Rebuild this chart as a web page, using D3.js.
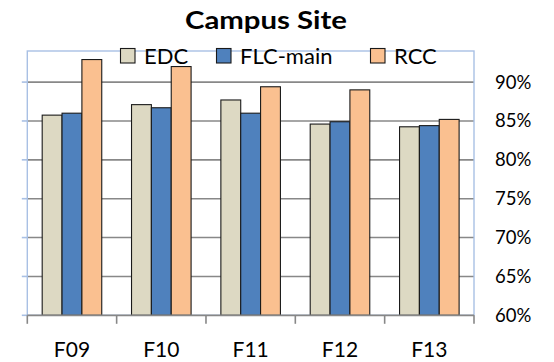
<!DOCTYPE html>
<html>
<head>
<meta charset="utf-8">
<script src="https://cdn.jsdelivr.net/npm/d3@7/dist/d3.min.js"></script>
<style>
  html, body { margin: 0; padding: 0; background: #fff; }
  svg { display: block; }
</style>
</head>
<body>
<svg id="chart" width="554" height="362"></svg>
<script>
const categories = ["F09", "F10", "F11", "F12", "F13"];
const seriesNames = ["EDC", "FLC-main", "RCC"];
const edcValues = [0.8575, 0.871, 0.877, 0.846, 0.8425];
const flcValues = [0.860, 0.867, 0.860, 0.849, 0.844];
const rccValues = [0.929, 0.920, 0.894, 0.890, 0.852];
const yTickValues = [0.60, 0.65, 0.70, 0.75, 0.80, 0.85, 0.90];
const seriesColors = ["#DDD9C3", "#4F81BD", "#FAC090"];
const titleText = "Campus Site";

const seriesValues = [edcValues, flcValues, rccValues];
const rows = categories.map((c, i) => ({
  cat: c,
  vals: seriesNames.map((s, j) => ({ key: s, value: seriesValues[j][i], color: seriesColors[j] }))
}));

const svg = d3.select("#chart");
const plot = { left: 27.3, right: 474, top: 51, bottom: 315.3 };

const x0 = d3.scaleBand().domain(categories).range([plot.left, plot.right]).padding(0);
const bw = x0.bandwidth();
const x1 = d3.scaleBand().domain(seriesNames).range([bw / 6, bw * 5 / 6]).padding(0);
const y = d3.scaleLinear().domain([0.60, 0.94]).range([plot.bottom, plot.top]);

const FONT = "Lato, 'Open Sans', sans-serif";

// gridlines
svg.append("g").selectAll("line").data(yTickValues.filter(v => v > 0.6)).join("line")
  .attr("x1", plot.left).attr("x2", plot.right)
  .attr("y1", d => y(d)).attr("y2", d => y(d))
  .attr("stroke", "#888888").attr("stroke-width", 1.6);

// left light blue ticks
svg.append("g").selectAll("line").data(yTickValues).join("line")
  .attr("x1", plot.left - 5.5).attr("x2", plot.left)
  .attr("y1", d => y(d)).attr("y2", d => y(d))
  .attr("stroke", "#A9C0E4").attr("stroke-width", 1.6);

// plot border (light blue)
svg.append("rect")
  .attr("x", plot.left).attr("y", plot.top)
  .attr("width", plot.right - plot.left).attr("height", plot.bottom - plot.top)
  .attr("fill", "none").attr("stroke", "#A9C0E4").attr("stroke-width", 1.4);

// bars
const groups = svg.append("g").selectAll("g").data(rows).join("g")
  .attr("transform", d => `translate(${x0(d.cat)},0)`);
groups.selectAll("rect").data(d => d.vals).join("rect")
  .attr("x", d => x1(d.key))
  .attr("width", x1.bandwidth())
  .attr("y", d => y(d.value))
  .attr("height", d => y(0.60) - y(d.value))
  .attr("fill", d => d.color)
  .attr("stroke", "#1a1a1a").attr("stroke-width", 1.1);

// bottom axis line + boundary ticks
const xg = svg.append("g");
xg.append("line").attr("x1", plot.left).attr("x2", plot.right)
  .attr("y1", plot.bottom).attr("y2", plot.bottom)
  .attr("stroke", "#878787").attr("stroke-width", 1.8);
const boundaries = categories.map(c => x0(c)).concat([x0(categories[categories.length - 1]) + bw]);
xg.selectAll("line.tk").data(boundaries).join("line").attr("class", "tk")
  .attr("x1", d => d).attr("x2", d => d)
  .attr("y1", plot.bottom).attr("y2", plot.bottom + 8.5)
  .attr("stroke", "#878787").attr("stroke-width", 1.6);

// x labels via axis
const xAxis = d3.axisBottom(x0).tickSize(0).tickPadding(0);
const xa = svg.append("g").attr("transform", `translate(0,${plot.bottom})`).call(xAxis);
xa.select(".domain").remove();
xa.selectAll("text").attr("dy", null).attr("y", 41.5)
  .attr("font-family", FONT).attr("font-size", 21).attr("fill", "#000");

// right y axis labels
const yAxis = d3.axisRight(y).tickValues(yTickValues).tickFormat(d3.format(".0%")).tickSize(0).tickPadding(21);
const ya = svg.append("g").attr("transform", `translate(${plot.right},0)`).call(yAxis);
ya.select(".domain").remove();
ya.selectAll("text").attr("font-family", FONT).attr("font-size", 18.5).attr("fill", "#000");

// title
svg.append("text").attr("x", 266).attr("y", 28.5).attr("text-anchor", "middle")
  .attr("font-family", FONT).attr("font-weight", "bold").attr("font-size", 24)
  .attr("textLength", 162).attr("lengthAdjust", "spacingAndGlyphs")
  .attr("fill", "#000").text(titleText);

// legend
const legendX = [120, 216, 370];
const lg = svg.append("g");
seriesNames.forEach((s, i) => {
  const lx = legendX[i];
  lg.append("rect").attr("x", lx + 0.5).attr("y", 48.5).attr("width", 14.5).attr("height", 14.5)
    .attr("fill", seriesColors[i]).attr("stroke", "#1a1a1a").attr("stroke-width", 1.1);
  lg.append("text").attr("x", lx + 24).attr("y", 64)
    .attr("font-family", FONT).attr("font-size", 22).attr("fill", "#000").text(s);
});
</script>
</body>
</html>
